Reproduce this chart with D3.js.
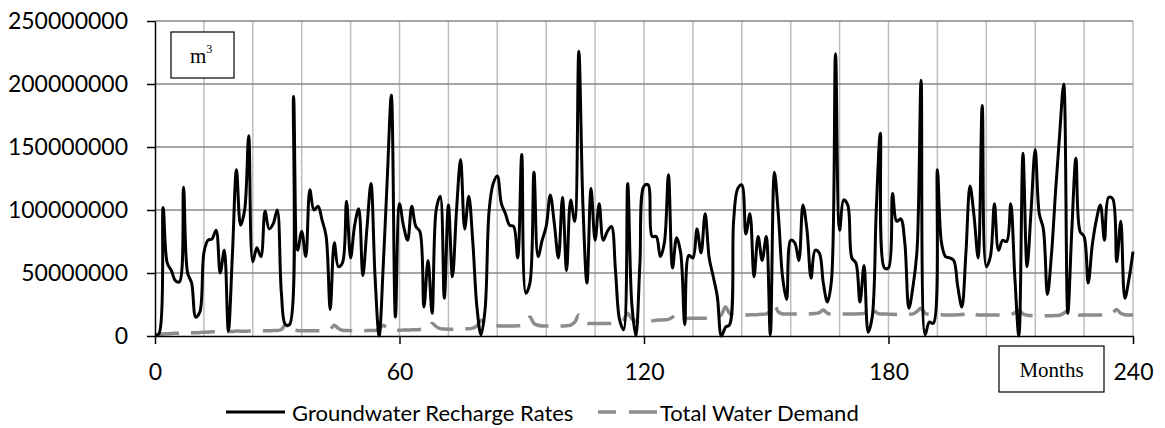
<!DOCTYPE html>
<html><head><meta charset="utf-8">
<script src="https://cdn.jsdelivr.net/npm/d3@7"></script>
<style>
body{margin:0;background:#fff}
svg{display:block}
.sans{font-family:Lato,"Noto Sans",sans-serif}
.serif{font-family:"Liberation Serif","Times New Roman",serif}
</style>
</head><body>
<svg id="c" width="1165" height="428"></svg>
<script>
// Groundwater recharge, million m3 per month (months 0..240)
const recharge = [
0,2,102,58,52,44,43,118,50,42,
15,19,66,76,77,84,50,68,4,65,
132,88,100,159,59,70,63,99,85,89,
100,35,9,9,190,68,83,63,116,100,
103,92,79,21,74,55,58,107,62,88,
101,48,85,121,47,0,55,125,191,15,
105,87,76,103,87,83,23,60,18,100,
111,30,104,47,100,140,85,111,74,23,
1,21,100,121,127,105,97,88,87,62,
144,34,42,130,63,76,87,112,89,62,
110,52,108,91,226,105,42,117,76,105,
76,83,87,52,13,5,121,26,0,58,
119,120,79,79,63,74,128,54,78,66,
9,64,62,85,66,97,62,47,31,0,
7,9,92,117,120,81,97,47,79,60,
79,1,130,95,47,29,76,74,60,104,
84,46,68,66,42,27,44,224,84,108,
104,62,58,27,56,3,15,100,161,54,
54,113,91,93,74,22,39,68,203,1,
11,10,132,74,63,62,60,39,23,66,
119,95,62,183,55,63,105,68,76,75,
105,47,0,145,55,100,148,97,85,33,
65,115,160,200,18,85,141,83,79,42,
72,92,104,76,110,109,59,91,30,45,
67];
// Total water demand, million m3 per month (months 0..240)
const demand = [
1.0,1.3,1.6,1.8,2.0,2.1,2.1,2.2,2.6,2.6,2.5,2.8,
3.0,3.2,3.3,3.4,3.4,3.5,3.5,3.6,4.0,3.8,3.8,3.9,
4.0,4.1,4.2,4.2,4.2,4.3,4.4,5.2,8.5,6.0,4.8,4.4,
4.2,4.2,4.2,4.2,4.2,4.3,4.4,5.5,8.5,6.0,4.6,4.3,
4.2,4.2,4.2,4.2,4.3,4.3,4.4,5.5,8.5,6.0,4.8,4.6,
4.6,4.7,4.8,4.9,5.0,5.2,5.5,6.5,10.0,7.5,5.8,5.5,
5.4,5.4,5.5,5.6,5.7,5.8,6.2,8.0,12.5,10.0,8.8,8.5,
8.2,8.0,8.0,8.0,8.0,8.1,8.5,10.5,15.0,10.0,8.5,8.0,
8.0,8.0,8.0,8.0,8.0,8.2,8.6,11.0,16.7,12.0,10.0,10.0,
10.0,10.0,10.0,10.0,10.0,10.2,10.8,13.0,18.0,13.5,11.5,11.4,
11.4,11.6,12.0,12.5,12.7,12.9,13.2,15.0,18.0,14.5,14.0,14.0,
14.0,14.0,14.0,14.0,14.0,14.2,14.6,17.0,23.0,18.0,16.7,16.7,
16.7,16.7,16.8,16.8,17.0,17.2,17.5,20.0,24.5,19.0,17.5,17.5,
17.5,17.5,17.5,17.5,17.5,17.6,17.8,18.5,20.6,18.0,17.5,17.5,
17.5,17.5,17.5,17.5,17.5,17.6,18.0,20.0,23.0,18.5,17.5,17.5,
17.3,17.2,17.0,17.0,17.0,17.2,17.5,19.5,22.0,18.0,17.0,17.0,
16.8,16.8,16.7,16.7,16.7,16.8,17.0,17.8,19.0,17.5,16.7,16.7,
16.7,16.7,16.7,16.7,16.7,16.8,17.0,18.5,20.6,17.5,16.5,16.2,
16.0,16.0,16.0,16.0,16.0,16.2,16.5,18.0,20.0,17.5,16.5,16.5,
16.7,16.7,16.7,16.7,16.7,16.8,17.0,18.5,21.0,18.0,16.8,16.7,
16.7];
const xTicks = [0,60,120,180,240];
const xGrid = [12,24,36,48,60,72,84,96,108,120,132,144,156,168,180,192,204,216,228,240];
const yTicks = [0,50,100,150,200,250];
const yTickLabels = ["0","50000000","100000000","150000000","200000000","250000000"];
const seriesNames = ["Groundwater Recharge Rates","Total Water Demand"];
const unitBase = "m", unitSup = "3";
const xTitle = "Months";

const svg = d3.select("#c");
const x = d3.scaleLinear().domain([0,240]).range([155,1133]);
const y = d3.scaleLinear().domain([0,250]).range([336,21]);

// grid
svg.append("g").selectAll("line").data(xGrid).join("line")
  .attr("x1",d=>x(d)).attr("x2",d=>x(d)).attr("y1",y(250)).attr("y2",y(0))
  .attr("stroke","#bdbdbd").attr("stroke-width",1.5);
svg.append("g").selectAll("line").data(yTicks.slice(1)).join("line")
  .attr("x1",x(0)).attr("x2",x(240)).attr("y1",d=>y(d)).attr("y2",d=>y(d))
  .attr("stroke","#878787").attr("stroke-width",1.5);

// series
const lineGen = arr => d3.line().x((d,i)=>x(i)).y(d=>y(d)).curve(d3.curveCatmullRom.alpha(0.5))(arr);
svg.append("path").attr("d",lineGen(demand)).attr("fill","none")
  .attr("stroke","#8c8c8c").attr("stroke-width",3.5).attr("stroke-dasharray","24 12");
svg.append("path").attr("d",lineGen(recharge)).attr("fill","none")
  .attr("stroke","#000").attr("stroke-width",3).attr("stroke-linejoin","round");

// axes
const ya = svg.append("g").attr("transform",`translate(${x(0)},0)`)
  .call(d3.axisLeft(y).tickValues(yTicks).tickFormat((d,i)=>yTickLabels[i]).tickSize(8).tickSizeOuter(0).tickPadding(19));
const xa = svg.append("g").attr("transform",`translate(0,${y(0)})`)
  .call(d3.axisBottom(x).tickValues(xTicks).tickSize(8).tickSizeOuter(0).tickPadding(20));
[ya,xa].forEach(a=>{
  a.selectAll("path,line").attr("stroke","#000").attr("stroke-width",1.5);
  a.selectAll("text").attr("class","sans").attr("font-size",23).attr("fill","#000");
});

// unit box
svg.append("rect").attr("x",171).attr("y",32).attr("width",63).attr("height",46)
  .attr("fill","#fff").attr("stroke","#000").attr("stroke-width",1.2);
const ut = svg.append("text").attr("class","serif").attr("x",190).attr("y",63).attr("font-size",21);
ut.append("tspan").text(unitBase);
ut.append("tspan").attr("font-size",12).attr("dy",-10).text(unitSup);

// Months box
svg.append("rect").attr("x",999).attr("y",346).attr("width",105).attr("height",46)
  .attr("fill","#fff").attr("stroke","#000").attr("stroke-width",1.2);
svg.append("text").attr("class","serif").attr("x",1051.5).attr("y",377).attr("font-size",21)
  .attr("text-anchor","middle").text(xTitle);

// legend
const lg = svg.append("g");
lg.append("line").attr("x1",226).attr("x2",285).attr("y1",412).attr("y2",412)
  .attr("stroke","#000").attr("stroke-width",3);
lg.append("text").attr("class","sans").attr("x",292).attr("y",421).attr("font-size",22).text(seriesNames[0]);
lg.append("line").attr("x1",598).attr("x2",657).attr("y1",412).attr("y2",412)
  .attr("stroke","#8c8c8c").attr("stroke-width",3.5).attr("stroke-dasharray","18 13 28");
lg.append("text").attr("class","sans").attr("x",660).attr("y",421).attr("font-size",22).text(seriesNames[1]);
</script>
</body></html>
